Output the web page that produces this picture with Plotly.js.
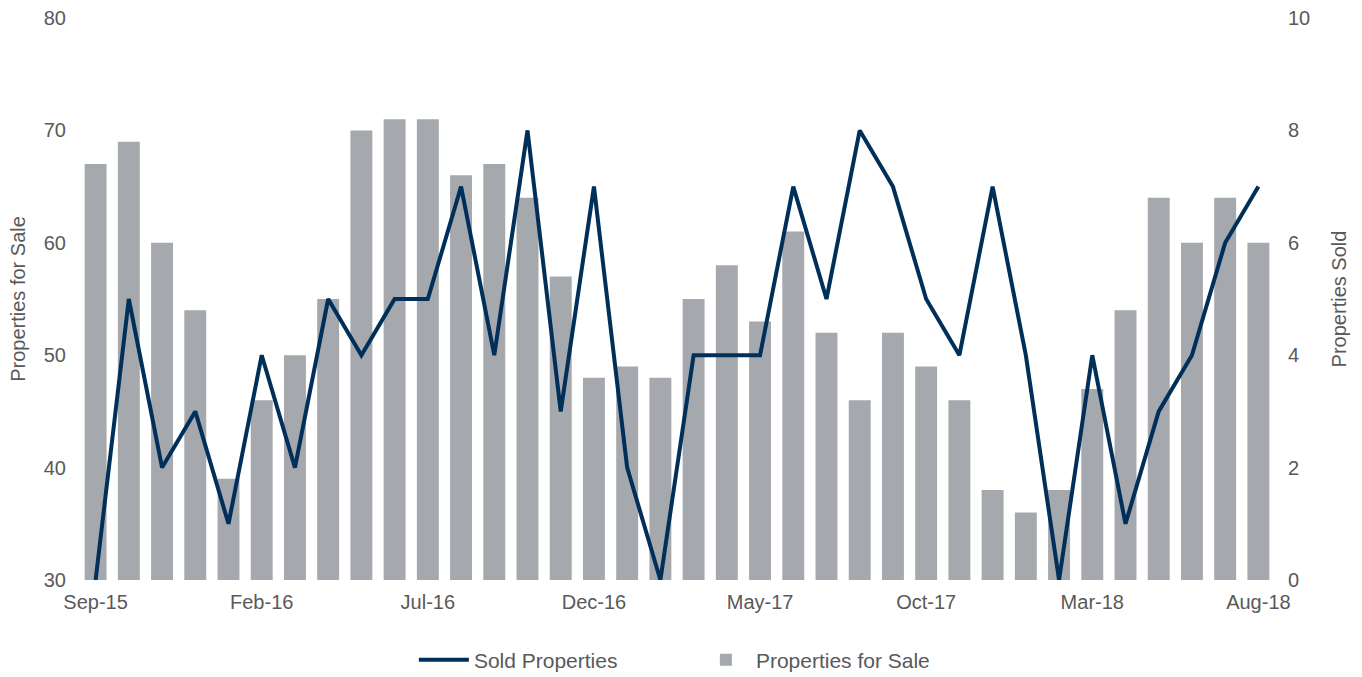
<!DOCTYPE html>
<html>
<head>
<meta charset="utf-8">
<script src="https://cdn.plot.ly/plotly-3.0.1.min.js"></script>
<style>html,body{margin:0;padding:0;background:#fff;}#chart{width:1362px;height:677px;}</style>
</head>
<body>
<div id="chart"></div>
<script>
const months = ["Sep-15","Oct-15","Nov-15","Dec-15","Jan-16","Feb-16","Mar-16","Apr-16","May-16","Jun-16","Jul-16","Aug-16",
"Sep-16","Oct-16","Nov-16","Dec-16","Jan-17","Feb-17","Mar-17","Apr-17","May-17","Jun-17","Jul-17","Aug-17",
"Sep-17","Oct-17","Nov-17","Dec-17","Jan-18","Feb-18","Mar-18","Apr-18","May-18","Jun-18","Jul-18","Aug-18"];
const forSale = [67,69,60,54,39,46,50,55,70,71,71,66,67,64,57,48,49,48,55,58,53,61,52,46,52,49,46,38,36,38,47,54,64,60,64,60];
const sold = [0,5,2,3,1,4,2,5,4,5,5,7,4,8,3,7,2,0,4,4,4,7,5,8,7,5,4,7,4,0,4,1,3,4,6,7];
const tickLabels = ["Sep-15","Feb-16","Jul-16","Dec-16","May-17","Oct-17","Mar-18","Aug-18"];

const fontFam = '"Liberation Sans", Arial, sans-serif';
const txt = '#595959';

const traces = [
  {x: months, y: sold, name: 'Sold Properties', type: 'scatter', mode: 'lines', yaxis: 'y2',
   line: {color: '#00305A', width: 4}},
  {x: months, y: forSale, name: 'Properties for Sale', type: 'bar', yaxis: 'y',
   marker: {color: '#A5A8AD'}}
];

const layout = {
  width: 1362, height: 677,
  margin: {l: 79, r: 87, t: 18, b: 97},
  paper_bgcolor: '#fff', plot_bgcolor: '#fff',
  font: {family: fontFam, size: 20, color: txt},
  bargap: 0.34,
  showlegend: true,
  legend: {orientation: 'h', x: 0.280, xanchor: 'left', xref: 'paper',
           y: 0.025, yref: 'container', yanchor: 'middle', entrywidth: 217,
           font: {size: 21, color: txt}, itemwidth: 50, traceorder: 'normal'},
  xaxis: {type: 'category', tickmode: 'array', tickvals: tickLabels, ticktext: tickLabels,
          showgrid: false, zeroline: false, showline: false, ticks: '', ticklabelstandoff: 8,
          tickfont: {size: 20, color: txt}, automargin: false},
  yaxis: {range: [30, 80], dtick: 10, tick0: 30, showgrid: false, zeroline: false, showline: false,
          ticks: '', ticklabelstandoff: 12, tickfont: {size: 20, color: txt},
          title: {text: 'Properties for Sale', font: {size: 20, color: txt}, standoff: 12},
          automargin: false},
  yaxis2: {range: [0, 10], dtick: 2, tick0: 0, overlaying: 'y', side: 'right',
           showgrid: false, zeroline: false, showline: false, ticks: '', ticklabelstandoff: 12,
           tickfont: {size: 20, color: txt},
           title: {text: 'Properties Sold', font: {size: 20, color: txt}, standoff: 22},
           automargin: false}
};

Plotly.newPlot('chart', traces, layout, {displayModeBar: false, staticPlot: true});
</script>
</body>
</html>
